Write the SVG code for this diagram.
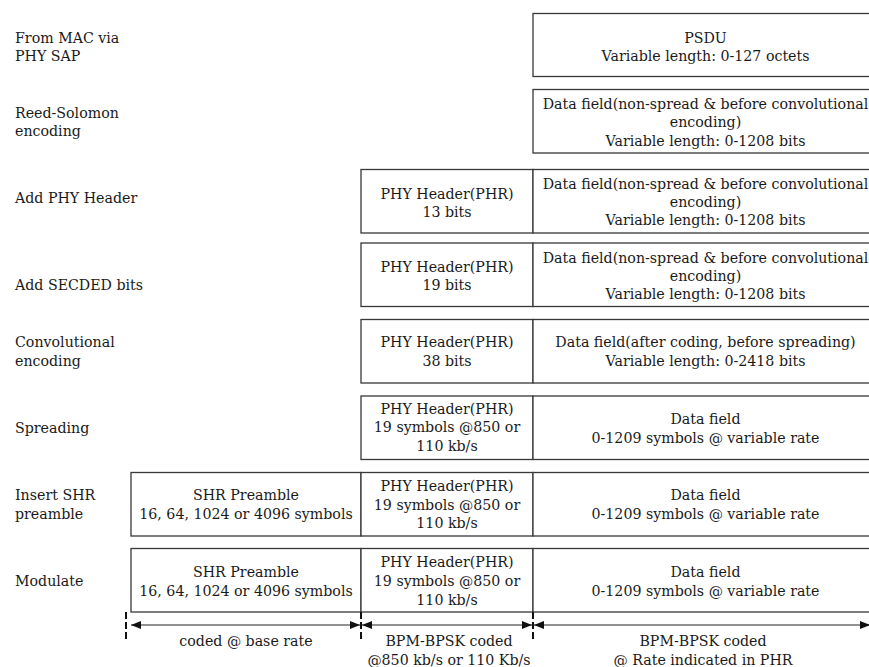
<svg xmlns="http://www.w3.org/2000/svg" width="869" height="667" viewBox="0 0 869 667">
<defs>
<style>
text{font-family:'DejaVu Serif', serif;font-size:14.2px;fill:#1a1a1a}
.c{text-anchor:middle}
.box{fill:#fff;stroke:#383838;stroke-width:1.3}
.dim{stroke:#6e6e6e;stroke-width:1.5;fill:none;marker-start:url(#ah);marker-end:url(#ah)}
.tick{stroke:#111;stroke-width:2;stroke-dasharray:7,3}
</style>
<marker id="ah" viewBox="0 0 10 8" refX="10" refY="4" markerWidth="10" markerHeight="8" markerUnits="userSpaceOnUse" orient="auto-start-reverse">
<path d="M0,0 L10,4 L0,8 z" fill="#111"/>
</marker>
</defs>
<rect width="869" height="667" fill="#fff"/>

<g id="labels">
<text x="15" y="42.5">From MAC via</text>
<text x="15" y="60.5">PHY SAP</text>
<text x="15" y="117.5">Reed-Solomon</text>
<text x="15" y="135.5">encoding</text>
<text x="15" y="202.5">Add PHY Header</text>
<text x="15" y="289.5">Add SECDED bits</text>
<text x="15" y="346.5">Convolutional</text>
<text x="15" y="365.5">encoding</text>
<text x="15" y="432.5">Spreading</text>
<text x="15" y="499.5">Insert SHR</text>
<text x="15" y="518.5">preamble</text>
<text x="15" y="585.5">Modulate</text>
</g>

<g id="row1">
<rect class="box" x="533" y="13.5" width="345" height="63"/>
<text class="c" x="705.5" y="42.5">PSDU</text>
<text class="c" x="705.5" y="60.5">Variable length: 0-127 octets</text>
</g>

<g id="row2">
<rect class="box" x="533" y="89.5" width="345" height="63.5"/>
<text class="c" x="705.5" y="108.5">Data field(non-spread &amp; before convolutional</text>
<text class="c" x="705.5" y="126.5">encoding)</text>
<text class="c" x="705.5" y="145.5">Variable length: 0-1208 bits</text>
</g>

<g id="row3">
<rect class="box" x="361" y="169.5" width="172" height="63.5"/>
<rect class="box" x="533" y="169.5" width="345" height="63.5"/>
<text class="c" x="447" y="198.5">PHY Header(PHR)</text>
<text class="c" x="447" y="216.5">13 bits</text>
<text class="c" x="705.5" y="188.5">Data field(non-spread &amp; before convolutional</text>
<text class="c" x="705.5" y="206.5">encoding)</text>
<text class="c" x="705.5" y="224.5">Variable length: 0-1208 bits</text>
</g>

<g id="row4">
<rect class="box" x="361" y="243" width="172" height="63.5"/>
<rect class="box" x="533" y="243" width="345" height="63.5"/>
<text class="c" x="447" y="271.5">PHY Header(PHR)</text>
<text class="c" x="447" y="289.5">19 bits</text>
<text class="c" x="705.5" y="262.5">Data field(non-spread &amp; before convolutional</text>
<text class="c" x="705.5" y="280.5">encoding)</text>
<text class="c" x="705.5" y="298.5">Variable length: 0-1208 bits</text>
</g>

<g id="row5">
<rect class="box" x="361" y="319.5" width="172" height="63.5"/>
<rect class="box" x="533" y="319.5" width="345" height="63.5"/>
<text class="c" x="447" y="346.5">PHY Header(PHR)</text>
<text class="c" x="447" y="365.5">38 bits</text>
<text class="c" x="705.5" y="346.5">Data field(after coding, before spreading)</text>
<text class="c" x="705.5" y="365.5">Variable length: 0-2418 bits</text>
</g>

<g id="row6">
<rect class="box" x="361" y="396" width="172" height="63.5"/>
<rect class="box" x="533" y="396" width="345" height="63.5"/>
<text class="c" x="447" y="413.5">PHY Header(PHR)</text>
<text class="c" x="447" y="431.5">19 symbols @850 or</text>
<text class="c" x="447" y="450.5">110 kb/s</text>
<text class="c" x="705.5" y="423.5">Data field</text>
<text class="c" x="705.5" y="442.5">0-1209 symbols @ variable rate</text>
</g>

<g id="row7">
<rect class="box" x="131" y="472.5" width="230" height="63.5"/>
<rect class="box" x="361" y="472.5" width="172" height="63.5"/>
<rect class="box" x="533" y="472.5" width="345" height="63.5"/>
<text class="c" x="246" y="499.5">SHR Preamble</text>
<text class="c" x="246" y="518.5">16, 64, 1024  or 4096 symbols</text>
<text class="c" x="447" y="490.5">PHY Header(PHR)</text>
<text class="c" x="447" y="509.5">19 symbols @850 or</text>
<text class="c" x="447" y="527.5">110 kb/s</text>
<text class="c" x="705.5" y="499.5">Data field</text>
<text class="c" x="705.5" y="518.5">0-1209 symbols @ variable rate</text>
</g>

<g id="row8">
<rect class="box" x="131" y="548.5" width="230" height="63.5"/>
<rect class="box" x="361" y="548.5" width="172" height="63.5"/>
<rect class="box" x="533" y="548.5" width="345" height="63.5"/>
<text class="c" x="246" y="576.5">SHR Preamble</text>
<text class="c" x="246" y="595.5">16, 64, 1024 or 4096 symbols</text>
<text class="c" x="447" y="566.5">PHY Header(PHR)</text>
<text class="c" x="447" y="585.5">19 symbols @850 or</text>
<text class="c" x="447" y="604.5">110 kb/s</text>
<text class="c" x="705.5" y="576.5">Data field</text>
<text class="c" x="705.5" y="595.5">0-1209 symbols @ variable rate</text>
</g>

<g id="connectors">
<line class="tick" x1="126" y1="612" x2="126" y2="639"/>
<line class="tick" x1="361" y1="612" x2="361" y2="641"/>
<line class="tick" x1="533" y1="612" x2="533" y2="641"/>
<line class="dim" x1="131" y1="625" x2="360" y2="625"/>
<line class="dim" x1="362" y1="625" x2="532" y2="625"/>
<line class="dim" x1="534" y1="625" x2="870" y2="625"/>
</g>

<g id="dim-labels">
<text class="c" x="246" y="645.5">coded @ base rate</text>
<text class="c" x="449" y="645.5">BPM-BPSK coded</text>
<text class="c" x="449" y="664.5">@850 kb/s or 110 Kb/s</text>
<text class="c" x="703" y="645.5">BPM-BPSK coded</text>
<text class="c" x="703" y="664.5">@ Rate indicated in PHR</text>
</g>
</svg>
